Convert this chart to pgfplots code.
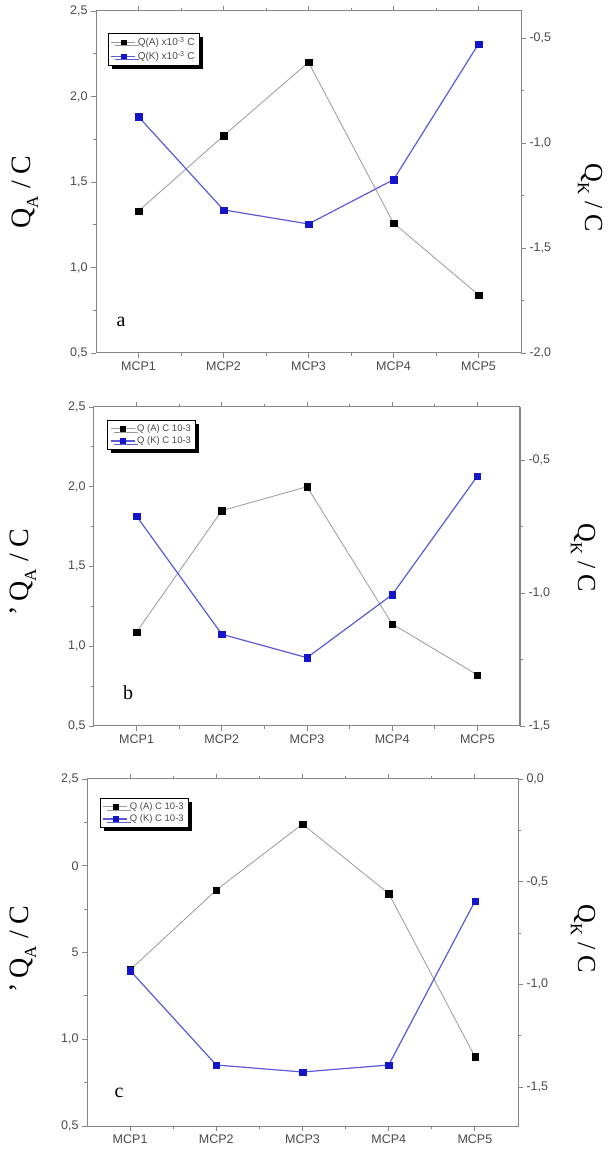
\documentclass[border=0pt]{standalone}
\usepackage{pgfplots}
\pgfplotsset{compat=1.18}
\usepackage{fontspec}
\setmainfont{Liberation Serif}
\newfontfamily\arial{Liberation Sans}
\usetikzlibrary{shadows}

\definecolor{axisgray}{HTML}{858585}
\definecolor{labgray}{HTML}{4A4A4A}
\definecolor{qaline}{HTML}{9A9A9A}
\definecolor{qkline}{HTML}{5B5BD6}
\definecolor{qkmark}{HTML}{1414C8}

% Q_A, Q_K values for the three series of measurements
\pgfplotstableread{
x qa   qk
1 1.33 -0.874
2 1.77 -1.318
3 2.20 -1.385
4 1.26 -1.174
5 0.84 -0.527
}\dataA
\pgfplotstableread{
x qa   qk
1 1.09 -0.711
2 1.85 -1.155
3 2.00 -1.243
4 1.14 -1.006
5 0.82 -0.560
}\dataB
\pgfplotstableread{
x qa   qk
1 1.40 -0.933
2 1.86 -1.393
3 2.24 -1.427
4 1.84 -1.393
5 0.90 -0.596
}\dataC

\pgfplotsset{
  mcp/.style={
    scale only axis, anchor=south west,
    xmin=0.5, xmax=5.5,
    axis line style={draw=axisgray, line width=1pt},
    every tick/.style={draw=axisgray, line width=0.9pt},
    major tick length=5pt, minor tick length=3pt,
    tick align=outside,
    xtick={1,2,3,4,5},
    xticklabels={MCP1,MCP2,MCP3,MCP4,MCP5},
    minor xtick={1.5,2.5,3.5,4.5},
    ticklabel style={font=\arial\fontsize{12.5}{14}\selectfont, text=labgray},
    clip=false,
  },
  qastyle/.style={color=qaline, line width=0.8pt, mark=square*,
    mark size=3.2pt, mark options={draw=black, fill=black, line width=0.3pt}},
  qkstyle/.style={color=qkline, line width=1.2pt, mark=square*,
    mark size=3.2pt, mark options={draw=qkmark, fill=qkmark, line width=0.3pt}},
  mcplegend/.style={
    legend cell align=left,
    legend image code/.code={\draw[mark repeat=2,mark phase=2,##1,mark size=2.4pt]
      plot coordinates {(0pt,0pt) (12pt,0pt) (24pt,0pt)};},
    legend style={draw=black, line width=0.5pt, fill=white,
      inner xsep=2.5pt, inner ysep=2pt, row sep=0pt,
      font=\arial\fontsize{9.5}{11}\selectfont, text=labgray,
      drop shadow={shadow xshift=3.5pt, shadow yshift=-3.5pt,
        fill=black, opacity=1}},
  },
}

\newcommand{\qlab}[1]{Q\raisebox{-0.28em}{\fontsize{17}{17}\selectfont #1}}

\begin{document}
\begin{tikzpicture}
\useasboundingbox (0pt,0pt) rectangle (611pt,1157pt);
\fill[white] (0pt,0pt) rectangle (611pt,1157pt);

% ---------------- panel a ----------------
\begin{axis}[mcp, mcplegend, at={(96pt,804pt)}, width=425pt, height=342pt,
  ymin=0.5, ymax=2.5, ytick={0.5,1,1.5,2,2.5},
  yticklabels={{0,5},{1,0},{1,5},{2,0},{2,5}},
  minor ytick={0.75,1.25,1.75,2.25}, ytick pos=left,
  legend style={at={(0.028,0.936)}, anchor=north west,
    font=\arial\fontsize{10}{12}\selectfont}]
\addplot[qastyle] table[x=x, y=qa] {\dataA};
\addlegendentry{Q(A) x10\textsuperscript{-3} C}
\addlegendimage{qkstyle}
\addlegendentry{Q(K) x10\textsuperscript{-3} C}
\end{axis}
\begin{axis}[mcp, at={(96pt,804pt)}, width=425pt, height=342pt,
  axis y line*=right, axis x line=none,
  ymin=-2, ymax=-0.37, ytick={-2,-1.5,-1,-0.5},
  yticklabels={{-2,0},{-1,5},{-1,0},{-0,5}},
  minor ytick={-1.75,-1.25,-0.75}]
\addplot[qkstyle] table[x=x, y=qk] {\dataA};
\end{axis}
\node[font=\fontsize{20}{22}\selectfont] at (121pt,835pt) {a};
\node[rotate=90, font=\fontsize{28}{30}\selectfont] at (25pt,965pt) {\qlab{A} / C};
\node[rotate=-90, font=\fontsize{26}{28}\selectfont] at (590pt,959pt) {\qlab{K} / C};

% ---------------- panel b ----------------
\begin{axis}[mcp, mcplegend, at={(94pt,431pt)}, width=426pt, height=319pt,
  ymin=0.5, ymax=2.5, ytick={0.5,1,1.5,2,2.5},
  yticklabels={{0,5},{1,0},{1,5},{2,0},{2,5}},
  minor ytick={0.75,1.25,1.75,2.25}, ytick pos=left,
  legend style={at={(0.031,0.959)}, anchor=north west}]
\addplot[qastyle] table[x=x, y=qa] {\dataB};
\addlegendentry{Q (A) C 10-3}
\addlegendimage{qkstyle}
\addlegendentry{Q (K) C 10-3}
\end{axis}
\begin{axis}[mcp, at={(94pt,431pt)}, width=426pt, height=319pt,
  axis y line*=right, axis x line=none,
  ymin=-1.5, ymax=-0.3, ytick={-1.5,-1,-0.5},
  yticklabels={{-1,5},{-1,0},{-0,5}},
  minor ytick={-1.25,-0.75}]
\addplot[qkstyle] table[x=x, y=qk] {\dataB};
\end{axis}
\node[font=\fontsize{20}{22}\selectfont] at (128pt,464pt) {b};
\node[rotate=90, font=\fontsize{28}{30}\selectfont] at (23pt,585pt) {'\,\qlab{A} / C};
\node[rotate=-90, font=\fontsize{26}{28}\selectfont] at (583pt,599pt) {\qlab{K} / C};

% ---------------- panel c ----------------
\begin{axis}[mcp, mcplegend, at={(87pt,31pt)}, width=431pt, height=347pt,
  ymin=0.5, ymax=2.5, ytick={0.5,1,1.5,2,2.5},
  yticklabels={{0,5},{1,0},5,0,{2,5}},
  minor ytick={0.75,1.25,1.75,2.25}, ytick pos=left,
  legend style={at={(0.030,0.945)}, anchor=north west}]
\addplot[qastyle] table[x=x, y=qa] {\dataC};
\addlegendentry{Q (A) C 10-3}
\addlegendimage{qkstyle}
\addlegendentry{Q (K) C 10-3}
\end{axis}
\begin{axis}[mcp, at={(87pt,31pt)}, width=431pt, height=347pt,
  axis y line*=right, axis x line=none,
  ymin=-1.69, ymax=0, ytick={-1.5,-1,-0.5,0},
  yticklabels={{-1,5},{-1,0},{-0,5},{0,0}},
  minor ytick={-1.25,-0.75,-0.25}]
\addplot[qkstyle] table[x=x, y=qk] {\dataC};
\end{axis}
\node[font=\fontsize{20}{22}\selectfont] at (119pt,64pt) {c};
\node[rotate=90, font=\fontsize{28}{30}\selectfont] at (23pt,208pt) {'\,\qlab{A} / C};
\node[rotate=-90, font=\fontsize{26}{28}\selectfont] at (583pt,218pt) {\qlab{K} / C};
\end{tikzpicture}
\end{document}
